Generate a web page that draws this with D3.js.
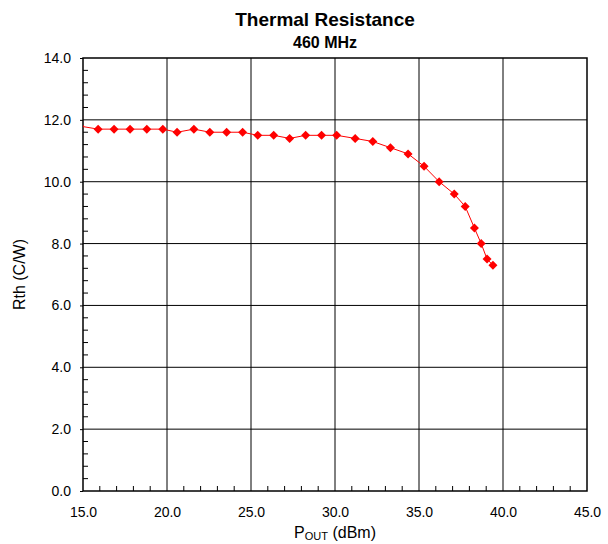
<!DOCTYPE html>
<html>
<head>
<meta charset="utf-8">
<script src="https://cdn.jsdelivr.net/npm/d3@7"></script>
<style>
  body { margin: 0; background: #fff; }
  text { font-family: "Liberation Sans", Arial, sans-serif; fill: #000; }
</style>
</head>
<body>
<div class="chart"></div>
<script>
(function() {
  'use strict';

  // data
  var pout = [14.8, 15.9, 16.85, 17.8, 18.8, 19.75, 20.6, 21.6, 22.55, 23.55, 24.5, 25.4, 26.35, 27.3, 28.25, 29.2, 30.1, 31.2, 32.25, 33.3, 34.35, 35.3, 36.2, 37.1, 37.75, 38.3, 38.7, 39.05, 39.4];
  var rth = [11.8, 11.7, 11.7, 11.7, 11.7, 11.7, 11.6, 11.7, 11.6, 11.6, 11.6, 11.5, 11.5, 11.4, 11.5, 11.5, 11.5, 11.4, 11.3, 11.1, 10.9, 10.5, 10.0, 9.6, 9.2, 8.5, 8.0, 7.5, 7.3];
  var xTicks = [15, 20, 25, 30, 35, 40, 45];
  var yTicks = [0, 2, 4, 6, 8, 10, 12, 14];

  var width = 608, height = 544;
  var margin = {left: 83, right: 21, top: 58, bottom: 53};

  var svg = d3.select(".chart").append("svg")
    .attr("width", width)
    .attr("height", height);

  var x = d3.scaleLinear().domain([15, 45]).range([margin.left, width - margin.right]);
  var y = d3.scaleLinear().domain([0, 14]).range([height - margin.bottom, margin.top]);

  var data = pout.map(function(d, i) { return {x: d, y: rth[i]}; });

  svg.append("defs").append("clipPath").attr("id", "clip")
    .append("rect")
    .attr("x", x(15)).attr("y", y(14))
    .attr("width", x(45) - x(15)).attr("height", y(0) - y(14));

  // gridlines
  svg.append("g").selectAll("line").data(xTicks.slice(1, -1)).enter().append("line")
    .attr("x1", x).attr("x2", x)
    .attr("y1", y(0)).attr("y2", y(14))
    .attr("stroke", "#000").attr("stroke-width", 1);
  svg.append("g").selectAll("line").data(yTicks.slice(1, -1)).enter().append("line")
    .attr("x1", x(15)).attr("x2", x(45))
    .attr("y1", y).attr("y2", y)
    .attr("stroke", "#000").attr("stroke-width", 1);

  // minor ticks
  var xMinor = d3.range(16, 45, 1).filter(function(d) { return d % 5 !== 0; });
  var yMinor = d3.range(0.4, 14, 0.4).filter(function(d) { return Math.abs(d / 2 - Math.round(d / 2)) > 0.01; });
  svg.append("g").selectAll("line").data(xMinor).enter().append("line")
    .attr("x1", x).attr("x2", x)
    .attr("y1", y(0)).attr("y2", y(0) - 5)
    .attr("stroke", "#000");
  svg.append("g").selectAll("line").data(yMinor).enter().append("line")
    .attr("x1", x(15)).attr("x2", x(15) + 5)
    .attr("y1", y).attr("y2", y)
    .attr("stroke", "#000");

  // frame
  svg.append("rect")
    .attr("x", x(15)).attr("y", y(14))
    .attr("width", x(45) - x(15)).attr("height", y(0) - y(14))
    .attr("fill", "none").attr("stroke", "#000").attr("stroke-width", 1.5);

  // axes
  var xAxis = svg.append("g")
    .attr("transform", "translate(0," + y(0) + ")")
    .call(d3.axisBottom(x).tickValues(xTicks).tickSize(0).tickPadding(16)
      .tickFormat(d3.format(".1f")));
  xAxis.select(".domain").remove();
  xAxis.selectAll("text").style("font-size", "14px");

  var yAxis = svg.append("g")
    .attr("transform", "translate(" + x(15) + ",0)")
    .call(d3.axisLeft(y).tickValues(yTicks).tickSize(3).tickPadding(9)
      .tickFormat(d3.format(".1f")));
  yAxis.select(".domain").remove();
  yAxis.selectAll("text").style("font-size", "14px");

  // series
  var plot = svg.append("g").attr("clip-path", "url(#clip)");
  plot.append("path")
    .datum(data)
    .attr("fill", "none")
    .attr("stroke", "#ff0000")
    .attr("stroke-width", 1)
    .attr("d", d3.line().x(function(d) { return x(d.x); }).y(function(d) { return y(d.y); }));
  plot.selectAll(".pt").data(data).enter().append("path")
    .attr("class", "pt")
    .attr("transform", function(d) { return "translate(" + x(d.x) + "," + y(d.y) + ")"; })
    .attr("d", "M0,-4.5L4.5,0L0,4.5L-4.5,0Z")
    .attr("fill", "#ff0000");

  // titles
  svg.append("text")
    .attr("x", 325).attr("y", 26)
    .attr("text-anchor", "middle")
    .style("font-size", "19px").style("font-weight", "bold")
    .text("Thermal Resistance");
  svg.append("text")
    .attr("x", 325).attr("y", 48)
    .attr("text-anchor", "middle")
    .style("font-size", "16px").style("font-weight", "bold")
    .text("460 MHz");

  svg.append("text")
    .attr("transform", "translate(25," + ((y(0) + y(14)) / 2) + ") rotate(-90)")
    .attr("text-anchor", "middle")
    .style("font-size", "16px")
    .text("Rth (C/W)");

  var xl = svg.append("text")
    .attr("x", (x(15) + x(45)) / 2).attr("y", 538)
    .attr("text-anchor", "middle")
    .style("font-size", "16px");
  xl.append("tspan").text("P");
  xl.append("tspan").attr("dy", 2).style("font-size", "11px").text("OUT");
  xl.append("tspan").attr("dy", -2).text(" (dBm)");
})();
</script>
</body>
</html>
